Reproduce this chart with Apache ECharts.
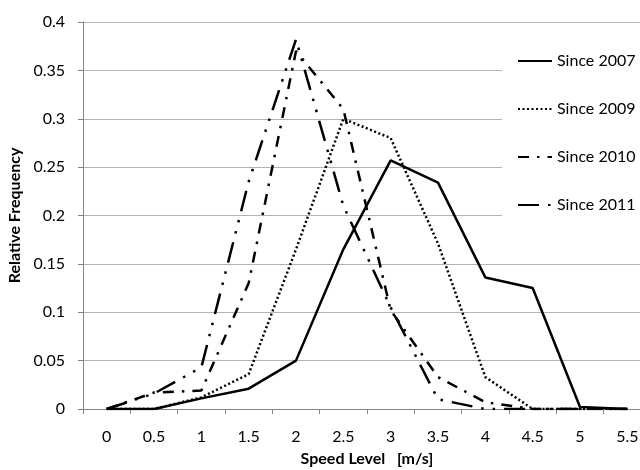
<!DOCTYPE html>
<html>
<head>
<meta charset="utf-8">
<script src="https://cdn.jsdelivr.net/npm/echarts@6/dist/echarts.min.js"></script>
<style>
  html, body { margin: 0; padding: 0; background: #fff; }
  #main { width: 640px; height: 470px; }
</style>
</head>
<body>
<div id="main"></div>
<script>
// speed levels (m/s) on the x axis
const speedLevels = ['0', '0.5', '1', '1.5', '2', '2.5', '3', '3.5', '4', '4.5', '5', '5.5']
const seriesNames = ['Since 2007', 'Since 2009', 'Since 2010', 'Since 2011']

// relative frequency
const since2007 = [0, 0, 0.011, 0.021, 0.05, 0.165, 0.257, 0.234, 0.136, 0.125, 0.002, 0]
const since2009 = [0, 0, 0.012, 0.036, 0.165, 0.3, 0.28, 0.171, 0.033, 0, 0, 0]
const since2010 = [0, 0.017, 0.019, 0.13, 0.37, 0.31, 0.102, 0.033, 0.007, 0, 0, 0]
const since2011 = [0, 0.016, 0.043, 0.235, 0.382, 0.21, 0.105, 0.01, 0, 0, 0, 0]

const fontFamily = 'Lato, "Noto Sans", sans-serif'

const chart = echarts.init(document.getElementById('main'))

function makeLine (name, data, dash) {
  return {
    name: name,
    type: 'line',
    data: data,
    symbol: 'none',
    lineStyle: {
      color: '#000',
      width: 2.5,
      type: dash
    },
    itemStyle: { color: '#000' }
  }
}

const option = {
  animation: false,
  backgroundColor: '#fff',
  grid: {
    left: 83,
    top: 22,
    bottom: 61,
    right: -11,
    containLabel: false,
    outerBoundsMode: 'none'
  },
  legend: {
    data: seriesNames,
    orient: 'vertical',
    left: 502,
    top: 35,
    backgroundColor: '#fff',
    padding: [18, 20, 18, 15],
    itemWidth: 34,
    itemHeight: 14,
    itemGap: 32,
    // hide the marker dot, keep only the dashed line
    itemStyle: { color: 'rgba(0,0,0,0)', borderColor: 'rgba(0,0,0,0)', borderWidth: 0 },
    textStyle: { fontFamily: fontFamily, fontSize: 16, color: '#000' }
  },
  xAxis: {
    type: 'category',
    data: speedLevels,
    boundaryGap: true,
    name: 'Speed Level   [m/s]',
    nameLocation: 'middle',
    nameGap: 42,
    nameTextStyle: { fontFamily: fontFamily, fontSize: 16, fontWeight: 'bold', color: '#000' },
    axisLine: { lineStyle: { color: '#868686', width: 1 } },
    axisTick: { show: true, length: 5, interval: 0, lineStyle: { color: '#868686' } },
    axisLabel: { interval: 0, margin: 20, fontFamily: fontFamily, fontSize: 16, color: '#000' },
    splitLine: { show: false }
  },
  yAxis: {
    type: 'value',
    min: 0,
    max: 0.4,
    interval: 0.05,
    name: 'Relative Frequency',
    nameLocation: 'middle',
    nameGap: 52,
    nameTextStyle: { fontFamily: fontFamily, fontSize: 16, fontWeight: 'bold', color: '#000' },
    axisLine: { show: true, lineStyle: { color: '#868686', width: 1 } },
    axisTick: { show: true, length: 5, lineStyle: { color: '#868686' } },
    axisLabel: { margin: 18, fontFamily: fontFamily, fontSize: 16, color: '#000' },
    splitLine: { show: true, lineStyle: { color: '#b3b3b3', width: 1 } }
  },
  series: [
    makeLine(seriesNames[0], since2007, 'solid'),
    makeLine(seriesNames[1], since2009, [2, 2.5]),
    makeLine(seriesNames[2], since2010, [11, 8, 2.5, 8]),
    makeLine(seriesNames[3], since2011, [21, 9, 2.5, 9, 2.5, 9])
  ]
}

chart.setOption(option)
</script>
</body>
</html>
